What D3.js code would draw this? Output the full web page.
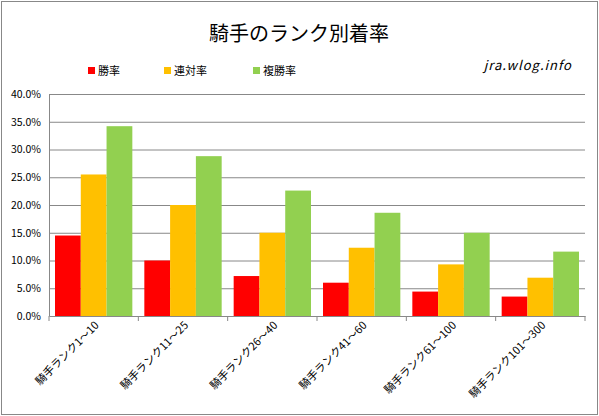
<!DOCTYPE html>
<html><head><meta charset="utf-8">
<script src="https://cdn.jsdelivr.net/npm/d3@7"></script>
<style>body{margin:0;background:#fff}text{font-family:"Noto Sans CJK JP","Noto Sans",sans-serif}</style>
</head><body><svg id="c" width="599" height="416"></svg>
<script>
const categories = ["騎手ランク1～10","騎手ランク11～25","騎手ランク26～40","騎手ランク41～60","騎手ランク61～100","騎手ランク101～300"];
const series = ["勝率","連対率","複勝率"];
const winRate = [14.5, 10.0, 7.2, 6.0, 4.4, 3.5];
const top2Rate = [25.5, 20.0, 15.0, 12.3, 9.3, 6.9];
const top3Rate = [34.2, 28.8, 22.6, 18.6, 15.0, 11.6];
const yTicks = [0, 5, 10, 15, 20, 25, 30, 35, 40];
const colors = ["#ff0000", "#ffc000", "#92d050"];

const svg = d3.select("#c");
svg.append("rect").attr("x", 1.5).attr("y", 1.5).attr("width", 596).attr("height", 413)
  .attr("fill", "#fff").attr("stroke", "#888");

const m = { left: 49, right: 585, top: 94, bottom: 316 };
const x = d3.scaleBand().domain(categories).range([m.left, m.right]);
const xi = d3.scaleBand().domain(series).range([6, x.bandwidth() - 6]);
const y = d3.scaleLinear().domain([0, 40]).range([m.bottom, m.top]);

svg.append("text").attr("x", 299).attr("y", 41).attr("text-anchor", "middle")
  .attr("font-size", 20).text("騎手のランク別着率");

// grid
svg.append("g").selectAll("line").data(yTicks.slice(1)).join("line")
  .attr("x1", m.left).attr("x2", m.right).attr("y1", d => y(d) + 0.5).attr("y2", d => y(d) + 0.5)
  .attr("stroke", "#888");

const ya = svg.append("g").attr("transform", `translate(${m.left},0)`)
  .call(d3.axisLeft(y).tickValues(yTicks).tickFormat(d => d.toFixed(1) + "%").tickSize(0).tickPadding(8));
ya.select(".domain").attr("stroke", "#888");
ya.selectAll("text").attr("font-size", 10.5).attr("font-family", "Liberation Sans, sans-serif").attr("fill", "#000");

const data = [winRate, top2Rate, top3Rate];
const g = svg.append("g");
categories.forEach((c, i) => {
  series.forEach((s, j) => {
    g.append("rect").attr("x", x(c) + xi(s)).attr("width", xi.bandwidth())
      .attr("y", y(data[j][i])).attr("height", y(0) - y(data[j][i])).attr("fill", colors[j]);
  });
});

const xa = svg.append("g").attr("transform", `translate(0,${m.bottom})`)
  .call(d3.axisBottom(x).tickSize(0).tickFormat(""));
xa.select(".domain").attr("stroke", "#888");
svg.append("g").selectAll("line").data(d3.range(categories.length + 1)).join("line")
  .attr("x1", d => m.left + d * x.step()).attr("x2", d => m.left + d * x.step())
  .attr("y1", m.bottom).attr("y2", m.bottom + 5).attr("stroke", "#888");

svg.append("g").selectAll("text").data(categories).join("text")
  .attr("transform", d => `translate(${x(d) + x.bandwidth() / 2 + 6},${m.bottom + 10}) rotate(-45)`)
  .attr("text-anchor", "end").attr("font-size", 11).text(d => d);

// legend
const lx = [88, 164, 253];
series.forEach((s, j) => {
  svg.append("rect").attr("x", lx[j]).attr("y", 67).attr("width", 7).attr("height", 7).attr("fill", colors[j]);
  svg.append("text").attr("x", lx[j] + 10).attr("y", 75).attr("font-size", 11).text(s);
});
svg.append("text").attr("x", 572).attr("y", 70).attr("text-anchor", "end")
  .attr("font-size", 13).attr("font-style", "italic").attr("letter-spacing", 1)
  .attr("font-family", "DejaVu Serif, serif").text("jra.wlog.info");
</script></body></html>
